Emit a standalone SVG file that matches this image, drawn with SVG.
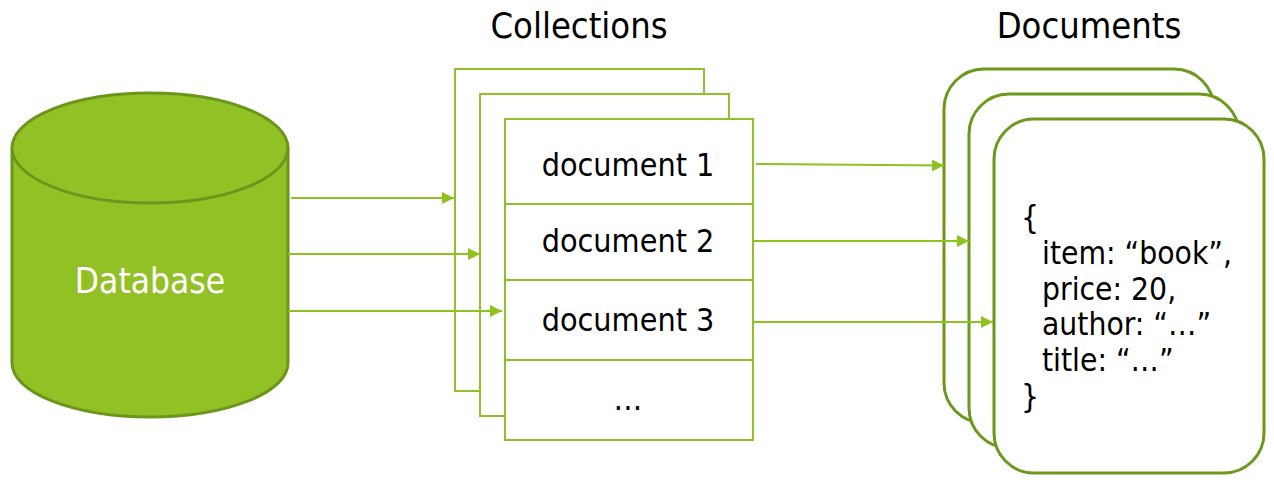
<svg xmlns="http://www.w3.org/2000/svg" width="1274" height="485" viewBox="0 0 1274 485">
<style>
text{font-family:"DejaVu Sans Condensed","Open Sans","Liberation Sans",sans-serif;fill:#000}
.title{font-size:36px;text-anchor:middle}
.cell{fill:#fff;stroke:#92c02a;stroke-width:2}
.lbl{font-size:32px;text-anchor:middle}
.card{fill:#fff;stroke:#6c981c;stroke-width:3}
.json{font-size:31.5px}
.conn{stroke:#8dc21f;stroke-width:2;fill:none}
</style>
<defs>
<marker id="ah" markerUnits="userSpaceOnUse" markerWidth="12" markerHeight="12" refX="12" refY="6" orient="auto">
<path d="M0,0 L12,6 L0,12 z" fill="#8dc21f"/>
</marker>
</defs>
<text class="title" x="579" y="38">Collections</text>
<text class="title" x="1089" y="38">Documents</text>
<g id="database">
<path d="M12,148 L12,363 A138,54 0 0 0 288,363 L288,148" fill="#92c126" stroke="#6b961b" stroke-width="3"/>
<ellipse cx="150" cy="148" rx="138" ry="55" fill="#92c126" stroke="#6b961b" stroke-width="3"/>
<text x="150" y="293" style="font-size:35px;text-anchor:middle;fill:#fff">Database</text>
</g>
<g id="collections">
<rect class="cell" x="455" y="69" width="249" height="322"/>
<rect class="cell" x="480" y="94" width="249" height="322"/>
<rect class="cell" x="505" y="119" width="248" height="321"/>
<line class="cell" x1="505" y1="204" x2="753" y2="204"/>
<line class="cell" x1="505" y1="280" x2="753" y2="280"/>
<line class="cell" x1="505" y1="360" x2="753" y2="360"/>
</g>
<g id="doc1"><text class="lbl" x="628" y="176">document 1</text></g>
<g id="doc2"><text class="lbl" x="628" y="252">document 2</text></g>
<g id="doc3"><text class="lbl" x="628" y="331">document 3</text></g>
<g id="docmore"><text class="lbl" x="628" y="410">…</text></g>
<g id="documents">
<rect class="card" x="944" y="69" width="270" height="354" rx="40" ry="40"/>
<rect class="card" x="969" y="94" width="270" height="354" rx="40" ry="40"/>
<rect class="card" x="994" y="119" width="270" height="354" rx="40" ry="40"/>
<text class="json" x="1021" y="228">{</text>
<text class="json" x="1042" y="264">item: “book”,</text>
<text class="json" x="1042" y="300">price: 20,</text>
<text class="json" x="1042" y="335">author: “…”</text>
<text class="json" x="1042" y="371">title: “…”</text>
<text class="json" x="1021" y="407">}</text>
</g>
<g id="connectors">
<line class="conn" x1="291" y1="198" x2="454" y2="198" marker-end="url(#ah)"/>
<line class="conn" x1="288" y1="254" x2="480" y2="254" marker-end="url(#ah)"/>
<line class="conn" x1="288" y1="311" x2="502" y2="311" marker-end="url(#ah)"/>
<line class="conn" x1="756" y1="164" x2="944" y2="165.5" marker-end="url(#ah)"/>
<line class="conn" x1="753" y1="241" x2="969" y2="241" marker-end="url(#ah)"/>
<line class="conn" x1="753" y1="322" x2="993" y2="322" marker-end="url(#ah)"/>
</g>
</svg>
